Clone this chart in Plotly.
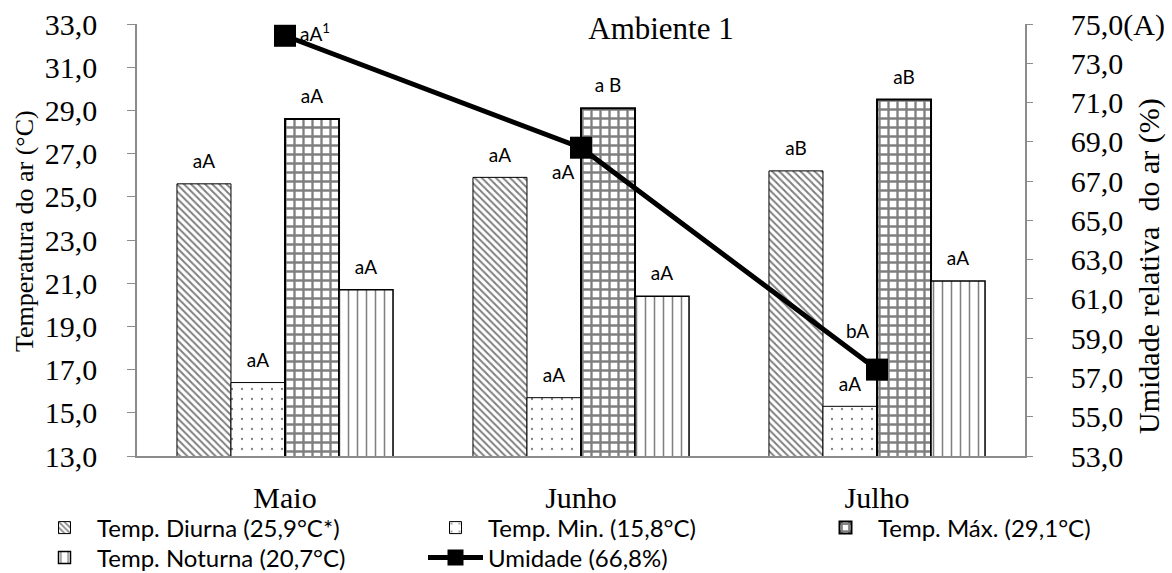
import plotly.graph_objects as go

# ---------------- data ----------------
months = ["Maio", "Junho", "Julho"]
temp_diurna = [25.6, 25.9, 26.2]
temp_min = [16.4, 15.7, 15.3]
temp_max = [28.6, 29.1, 29.5]
temp_noturna = [20.7, 20.4, 21.1]
umidade = [74.4, 68.7, 57.4]

lab_diurna = ["aA", "aA", "aB"]
lab_min = ["aA", "aA", "aA"]
lab_max = ["aA", "a B", "aB"]
lab_noturna = ["aA", "aA", "aA"]
lab_umidade = ["aA<sup>1</sup>", "aA", "bA"]

names = ["Temp. Diurna (25,9°C*)", "Temp. Min. (15,8°C)", "Temp. Máx. (29,1°C)",
         "Temp. Noturna (20,7°C)", "Umidade (66,8%)"]

left_tick_vals = [13, 15, 17, 19, 21, 23, 25, 27, 29, 31, 33]
right_tick_vals = [53, 55, 57, 59, 61, 63, 65, 67, 69, 71, 73, 75]
right_tick_text = ["53,0", "55,0", "57,0", "59,0", "61,0", "63,0", "65,0",
                   "67,0", "69,0", "71,0", "73,0", "75,0(A)"]

left_title = "Temperatura do ar (°C)"
right_title = "Umidade relativa  do ar (%)"
chart_title = "Ambiente 1"

# ---------------- style ----------------
SERIF = "Liberation Serif"
SANS = "Lato"
AXIS_GRAY = "#8c8c8c"
W, H = 1172, 573
ML, MR, MT, MB = 137, 147, 24, 117
PW, PH = W - ML - MR, H - MT - MB

fig = go.Figure()

x_idx = list(range(len(months)))
bw = 0.1825
start = -0.365

patterns = [
    dict(shape="\\", fgcolor="black", bgcolor="white", size=5, solidity=0.4),
    dict(shape=".", fgcolor="black", bgcolor="white", size=10, solidity=0.04),
    dict(shape="+", fgcolor="black", bgcolor="white", size=9, solidity=0.45),
    dict(shape="|", fgcolor="black", bgcolor="white", size=9, solidity=0.17),
]
outline_w = [1, 1, 2, 1.5]
series = [temp_diurna, temp_min, temp_max, temp_noturna]
labels = [lab_diurna, lab_min, lab_max, lab_noturna]
legend_ids = ["legend", "legend2", "legend3", "legend4"]

for j in range(4):
    off = start + j * bw
    fig.add_trace(go.Bar(
        x=x_idx, y=series[j], width=bw, offset=off,
        name=names[j], legend=legend_ids[j],
        marker=dict(color="white", line=dict(color="black", width=outline_w[j]),
                    pattern=patterns[j]),
        yaxis="y",
    ))
    fig.add_trace(go.Scatter(
        x=[i + off + bw / 2 for i in x_idx], y=series[j],
        mode="markers+text", text=labels[j], textposition="top center",
        textfont=dict(family=SANS, size=19, color="black"),
        marker=dict(size=16, color="rgba(0,0,0,0)"),
        showlegend=False, hoverinfo="skip", cliponaxis=False, yaxis="y",
    ))

fig.add_trace(go.Scatter(
    x=x_idx, y=umidade, mode="lines+markers", name=names[4], legend="legend5",
    line=dict(color="black", width=5),
    marker=dict(symbol="square", size=22, color="black"),
    yaxis="y2", cliponaxis=False,
))

hum_pos = [("left", 13, 3), ("right", -5, -24), ("right", -6, 39)]
for i, (xa, xs, ys) in enumerate(hum_pos):
    fig.add_annotation(x=x_idx[i], y=umidade[i], xref="x", yref="y2",
                       text=lab_umidade[i], showarrow=False,
                       xanchor=xa, yanchor="middle", xshift=xs, yshift=ys,
                       font=dict(family=SANS, size=19, color="black"))

# axis titles placed like the reference
fig.add_annotation(text=left_title, textangle=-90,
                   xref="paper", yref="paper",
                   x=(25 - ML) / PW, y=(MT + PH - 231) / PH,
                   xanchor="center", yanchor="middle", showarrow=False,
                   font=dict(family=SERIF, size=26, color="black"))
fig.add_annotation(text=right_title, textangle=-90,
                   xref="paper", yref="paper",
                   x=(1149 - ML) / PW, y=(MT + PH - 266) / PH,
                   xanchor="center", yanchor="middle", showarrow=False,
                   font=dict(family=SERIF, size=30, color="black"))

legend_common = dict(orientation="v", xanchor="left", yanchor="middle",
                     xref="container", yref="container",
                     font=dict(family=SANS, size=24, color="black"),
                     bgcolor="rgba(0,0,0,0)", itemwidth=55)
row1_y = 1 - 528 / H
row2_y = 1 - 558 / H
col_x = [32 / W, 423 / W, 813 / W]

fig.update_layout(
    width=W, height=H,
    margin=dict(l=ML, r=MR, t=MT, b=MB, autoexpand=False),
    paper_bgcolor="white", plot_bgcolor="white",
    separators=",.",
    barmode="overlay",
    showlegend=True,
    title=dict(text=chart_title, x=661 / W, xanchor="center",
               y=1 - 28 / H, yanchor="middle",
               font=dict(family=SERIF, size=31, color="black")),
    xaxis=dict(range=[-0.5, 2.5], tickvals=x_idx, ticktext=months,
               showgrid=False, zeroline=False, showline=True, linecolor=AXIS_GRAY,
               linewidth=1.5, ticks="", ticklabelstandoff=14,
               tickfont=dict(family=SERIF, size=30, color="black")),
    yaxis=dict(range=[13, 33], tickvals=left_tick_vals, tickformat=".1f",
               showgrid=False, zeroline=False, showline=True, linecolor=AXIS_GRAY,
               linewidth=1.5, ticks="outside", ticklen=8, tickcolor=AXIS_GRAY,
               ticklabelstandoff=24,
               tickfont=dict(family=SERIF, size=30, color="black")),
    yaxis2=dict(range=[53, 75], overlaying="y", side="right",
                tickvals=right_tick_vals, ticktext=right_tick_text,
                showgrid=False, zeroline=False, showline=True, linecolor=AXIS_GRAY,
                linewidth=1.5, ticks="outside", ticklen=6, tickcolor=AXIS_GRAY,
                ticklabelstandoff=32,
                tickfont=dict(family=SERIF, size=30, color="black")),
    legend=dict(x=col_x[0], y=row1_y, **legend_common),
    legend2=dict(x=col_x[1], y=row1_y, **legend_common),
    legend3=dict(x=col_x[2], y=row1_y, **legend_common),
    legend4=dict(x=col_x[0], y=row2_y, **legend_common),
    legend5=dict(x=col_x[1], y=row2_y, **legend_common),
)

fig.write_html("out.html")
